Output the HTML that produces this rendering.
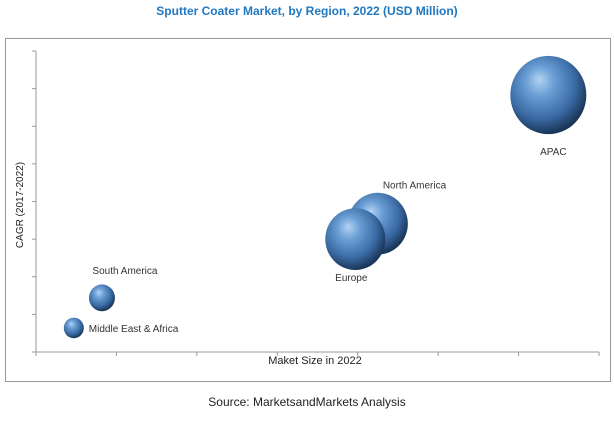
<!DOCTYPE html>
<html><head><meta charset="utf-8"><style>
body{margin:0;background:#fff;width:614px;height:416px;overflow:hidden;font-family:"Liberation Sans",sans-serif}
</style></head><body>
<svg id="chart" width="614" height="416">
<defs>
<radialGradient id="ball" cx="0.42" cy="0.38" r="0.62" fx="0.38" fy="0.3">
<stop offset="0" stop-color="#b5d3f3"/>
<stop offset="0.3" stop-color="#6b9fd6"/>
<stop offset="0.72" stop-color="#3a6aa3"/>
<stop offset="1" stop-color="#1a3658"/>
</radialGradient>
</defs>
<text x="307" y="15" text-anchor="middle" font-size="12" font-weight="bold" fill="#1f78c1">Sputter Coater Market, by Region, 2022 (USD Million)</text>
<rect x="5.5" y="38.5" width="605" height="343" fill="none" stroke="#999"/>
<g id="axes"></g>
<g id="bubbles"></g>
<text x="315" y="364" text-anchor="middle" font-size="11" fill="#222">Maket Size in 2022</text>
<text transform="translate(23,205) rotate(-90)" text-anchor="middle" font-size="10" fill="#222">CAGR (2017-2022)</text>
<text x="307" y="406" text-anchor="middle" font-size="12" fill="#222">Source: MarketsandMarkets Analysis</text>
</svg>
<script>
const regions=["APAC","North America","Europe","South America","Middle East & Africa"];
const marketSize=[6.37,4.25,3.97,0.82,0.47];
const cagr=[6.83,3.41,3.0,1.44,0.64];
const bubbleRadius=[38,30,30,13,10];
const xTicks=[0,1,2,3,4,5,6,7];
const yTicks=[0,1,2,3,4,5,6,7,8];
const X0=36,X1=599,Y0=352,Y1=51;
const xs=v=>X0+(X1-X0)*v/7;
const ys=v=>Y0-(Y0-Y1)*v/8;
const ns="http://www.w3.org/2000/svg";
const ax=document.getElementById('axes');
function mk(t,a,p){const e=document.createElementNS(ns,t);for(const k in a)e.setAttribute(k,a[k]);p.appendChild(e);return e;}
let l=mk('line',{x1:X0,y1:Y0,x2:X1,y2:Y0,stroke:'#999'},ax);


l=mk('line',{x1:X0,y1:Y0,x2:X0,y2:Y1,stroke:'#999'},ax);


xTicks.forEach(t=>{const e=mk('line',{x1:xs(t),y1:Y0,x2:xs(t),y2:Y0+4,stroke:'#999'},ax);

});
yTicks.forEach(t=>{const e=mk('line',{x1:X0-4,y1:ys(t),x2:X0,y2:ys(t),stroke:'#999'},ax);

});
const bg=document.getElementById('bubbles');
const labOff=[[5,60],[5,-35],[-4,42],[23,-24],[15,4]];
regions.forEach((r,i)=>{
const cx=xs(marketSize[i]),cy=ys(cagr[i]),rad=bubbleRadius[i];
const c=mk('ellipse',{cx:cx,cy:cy,rx:rad,ry:rad*1.03,fill:'url(#ball)'},bg);


const t=mk('text',{x:cx+labOff[i][0],y:cy+labOff[i][1],'font-size':10,fill:'#333','text-anchor':i==4?'start':(i==1?'start':'middle')},bg);
t.textContent=r;


});
</script>
</body></html>
